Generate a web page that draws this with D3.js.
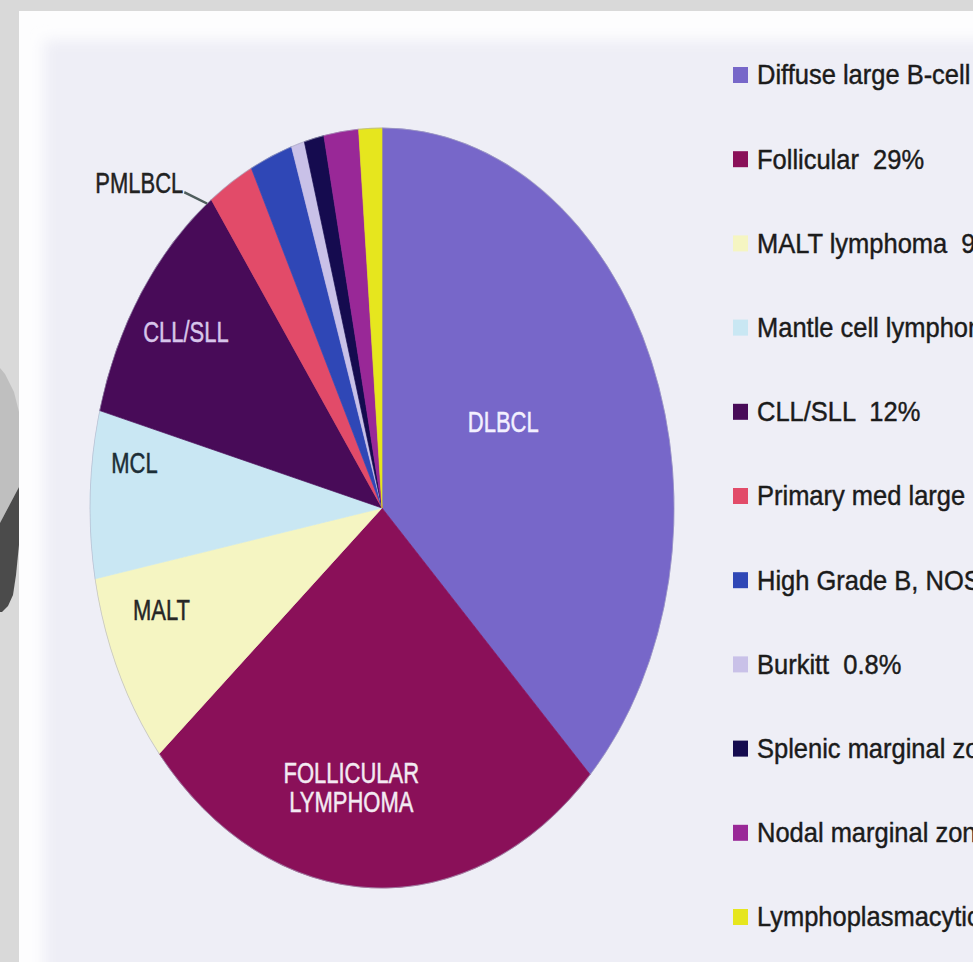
<!DOCTYPE html>
<html>
<head>
<meta charset="utf-8">
<script src="https://cdn.jsdelivr.net/npm/d3@7"></script>
<style>
  html, body { margin: 0; padding: 0; background: #d9d9d9; }
  svg { display: block; }
  text { font-family: "Liberation Sans", Arial, Helvetica, sans-serif; }
</style>
</head>
<body>
<svg id="chart" width="973" height="962"></svg>
<script>
// Lymphoma subtypes, share of cases (%)
const categories = [
  "Diffuse large B-cell", "Follicular", "MALT lymphoma", "Mantle cell lymphoma",
  "CLL/SLL", "Primary med large B-cell", "High Grade B, NOS", "Burkitt",
  "Splenic marginal zone", "Nodal marginal zone", "Lymphoplasmacytic"
];
const values = [41, 29, 9, 7.8, 12, 2.8, 2.6, 0.8, 1.2, 2.1, 1.4];
const sliceNames = ["DLBCL", "FOLLICULAR|LYMPHOMA", "MALT", "MCL", "CLL/SLL", "PMLBCL", "", "", "", "", ""];
const colors = [
  "#7767c9", "#8a1059", "#f5f5c2", "#c9e7f3", "#480b58", "#e24b69",
  "#2f47b6", "#c9c1e8", "#150b4f", "#992897", "#e6e61e"
];

const data = categories.map((c, i) => ({ name: c, short: sliceNames[i], value: values[i], color: colors[i] }));

const W = 973, H = 962;
const svg = d3.select("#chart");
const defs = svg.append("defs");
defs.append("filter").attr("id", "soft").attr("x", "-5%").attr("y", "-5%").attr("width", "110%").attr("height", "110%")
  .append("feGaussianBlur").attr("stdDeviation", 7);

// page frame and paper
svg.append("rect").attr("width", W).attr("height", H).attr("fill", "#d9d9d9");
svg.append("rect").attr("x", 19).attr("y", 11).attr("width", W - 19).attr("height", H - 11).attr("fill", "#fdfdfe");
svg.append("rect").attr("x", 44).attr("y", 40).attr("width", W).attr("height", H)
  .attr("fill", "#eeeef6").attr("filter", "url(#soft)");

// binding edge on the left margin
svg.append("polygon")
  .attr("points", "0,368 5,374 14,392 19,412 19,487 0,523")
  .attr("fill", "#bfbfbf");
svg.append("polygon")
  .attr("points", "19,487 19,545 16,575 13,595 8,606 2,612 0,612 0,523")
  .attr("fill", "#4b4b4b");

// pie, drawn as a circle and stretched vertically into an ellipse
const cx = 382, cy = 508, rx = 292, ry = 380;
const k = ry / rx;
const g = svg.append("g").attr("transform", `translate(${cx},${cy}) scale(1,${k})`);

const pie = d3.pie().sort(null).value(d => d.value).startAngle(0).endAngle(2 * Math.PI);
const arcs = pie(data);
const arc = d3.arc().innerRadius(0).outerRadius(rx);

g.selectAll("path.slice")
  .data(arcs)
  .join("path")
  .attr("class", "slice")
  .attr("d", arc)
  .attr("fill", d => d.data.color)
  .attr("stroke", d => d.data.color)
  .attr("stroke-width", 0.6);

g.append("circle").attr("r", rx).attr("fill", "none")
  .attr("stroke", "#a9a9c0").attr("stroke-width", 0.8).attr("stroke-opacity", 0.6);

// helper: point at radius r and angle (degrees clockwise from 12 o'clock)
const polar = (r, deg) => {
  const a = deg * Math.PI / 180;
  return [r * Math.sin(a), -r * Math.cos(a)];
};
const midDeg = d => ((d.startAngle + d.endAngle) / 2) * 180 / Math.PI;

// in-slice labels: radius and angular nudge from the slice middle
const labelPlace = {
  "DLBCL": { r: 138, nudge: -5.8, fill: "#f3f0ff" },
  "FOLLICULAR|LYMPHOMA": { r: 217, nudge: 6, fill: "#f3eaf2" },
  "MALT": { r: 234, nudge: 6, fill: "#262626" },
  "MCL": { r: 250, nudge: 6, fill: "#1c2e36" },
  "CLL/SLL": { r: 238, nudge: 0, fill: "#d7c5ea" }
};

arcs.forEach(d => {
  const p = labelPlace[d.data.short];
  if (!p) return;
  const [x, y] = polar(p.r, midDeg(d) + p.nudge);
  const lines = d.data.short.split("|");
  const t = g.append("text")
    .attr("x", x).attr("y", y)
    .attr("text-anchor", "middle")
    .attr("fill", p.fill)
    .attr("stroke", p.fill).attr("stroke-width", 0.35)
    .style("font-size", "22px");
  lines.forEach((ln, i) => {
    t.append("tspan")
      .attr("x", x)
      .attr("y", y + (i - (lines.length - 1) / 2) * 22.5)
      .attr("dominant-baseline", "central")
      .text(ln);
  });
});

// outside label with leader line for the PMLBCL slice
const pml = arcs[5];
const edgeDeg = pml.startAngle * 180 / Math.PI - 1;
const [ex, ey] = polar(rx, edgeDeg);
const [lx, ly] = polar(rx + 21, edgeDeg - 2.4);
g.append("path")
  .attr("d", `M${lx},${ly}L${ex},${ey}`)
  .attr("stroke", "#4f5d5d").attr("stroke-width", 2).attr("fill", "none");
g.append("text")
  .attr("x", lx - 1).attr("y", ly - 7)
  .attr("text-anchor", "end")
  .attr("dominant-baseline", "central")
  .attr("fill", "#222").attr("stroke", "#222").attr("stroke-width", 0.35)
  .style("font-size", "22px")
  .text(pml.data.short);

// legend
const legendY = d3.scalePoint().domain(categories).range([75, 917]);
const fmt = v => `${v}%`;
const leg = svg.append("g");
data.forEach(d => {
  const y = legendY(d.name);
  leg.append("rect")
    .attr("x", 733).attr("y", y - 8).attr("width", 15).attr("height", 16)
    .attr("fill", d.color);
  leg.append("g")
    .attr("transform", `translate(757,${y}) scale(1,1.08)`)
    .append("text")
    .attr("dominant-baseline", "central")
    .attr("fill", "#1b1b1b")
    .attr("stroke", "#1b1b1b").attr("stroke-width", 0.4)
    .style("font-size", "25.5px")
    .style("white-space", "pre")
    .text(`${d.name}  ${fmt(d.value)}`);
});
</script>
</body>
</html>
